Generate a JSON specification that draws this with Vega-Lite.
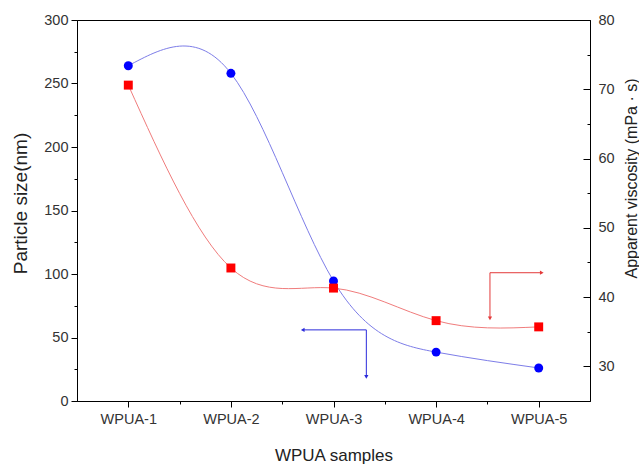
{
  "$schema": "https://vega.github.io/schema/vega-lite/v6.json",
  "width": 513,
  "height": 381,
  "autosize": {"type": "none"},
  "padding": {"left": 77, "top": 20, "right": 49, "bottom": 63},
  "config": {
    "font": "Liberation Sans",
    "view": {"stroke": "#000", "strokeWidth": 1},
    "axis": {
      "domainColor": "#000",
      "tickColor": "#000",
      "labelColor": "#333",
      "titleColor": "#222",
      "titleFontWeight": "normal",
      "labelFontSize": 14.5,
      "titleFontSize": 18,
      "grid": false
    }
  },
  "datasets": {
    "size": [
      {"x": 1, "y": 264},
      {"x": 2, "y": 258},
      {"x": 3, "y": 94.5},
      {"x": 4, "y": 38.5},
      {"x": 5, "y": 26}
    ],
    "viscosity": [
      {"x": 1, "y": 70.6},
      {"x": 2, "y": 44.2},
      {"x": 3, "y": 41.3},
      {"x": 4, "y": 36.6},
      {"x": 5, "y": 35.7}
    ],
    "arrowPaths": [
      {"arrow": "blue", "order": 1, "x": 2.7, "y": 56},
      {"arrow": "blue", "order": 2, "x": 3.32, "y": 56},
      {"arrow": "blue", "order": 3, "x": 3.32, "y": 19},
      {"arrow": "red", "order": 1, "x": 4.525, "y": 65},
      {"arrow": "red", "order": 2, "x": 4.525, "y": 101},
      {"arrow": "red", "order": 3, "x": 5.03, "y": 101}
    ],
    "arrowHeads": [
      {"arrow": "blue", "dir": "left", "x": 2.7, "y": 56},
      {"arrow": "blue", "dir": "down", "x": 3.32, "y": 19},
      {"arrow": "red", "dir": "down", "x": 4.525, "y": 65},
      {"arrow": "red", "dir": "right", "x": 5.03, "y": 101}
    ]
  },
  "encoding": {
    "x": {
      "field": "x",
      "type": "quantitative",
      "scale": {"domain": [0.5, 5.5], "nice": false, "zero": false},
      "axis": {
        "values": [1, 1.5, 2, 2.5, 3, 3.5, 4, 4.5, 5],
        "labelExpr": "datum.value % 1 === 0 ? 'WPUA-' + datum.value : ''",
        "tickSize": {"condition": {"test": "datum.value % 1 === 0", "value": 6}, "value": 3},
        "labelPadding": 5,
        "labelFlush": false,
        "labelOverlap": false,
        "title": "WPUA samples",
        "titleFontSize": 17,
        "titlePadding": 22
      }
    }
  },
  "layer": [
    {
      "encoding": {
        "y": {
          "field": "y",
          "type": "quantitative",
          "scale": {"domain": [0, 300], "nice": false},
          "axis": {
            "values": [0, 25, 50, 75, 100, 125, 150, 175, 200, 225, 250, 275, 300],
            "labelExpr": "datum.value % 50 === 0 ? datum.label : ''",
            "tickSize": {"condition": {"test": "datum.value % 50 === 0", "value": 6}, "value": 3},
            "labelPadding": 3,
            "labelOverlap": false,
            "title": "Particle size(nm)",
            "titleFontSize": 19,
            "titleX": -57,
            "titleY": 183,
            "titleAlign": "center",
            "titleBaseline": "middle"
          }
        }
      },
      "layer": [
        {
          "data": {"name": "size"},
          "mark": {"type": "line", "interpolate": "natural", "color": "#7d7de8", "strokeWidth": 1}
        },
        {
          "data": {"name": "size"},
          "mark": {"type": "point", "shape": "circle", "filled": true, "opacity": 1, "color": "#0000ff", "size": 80}
        },
        {
          "data": {"name": "arrowPaths"},
          "mark": {"type": "line", "strokeWidth": 1},
          "encoding": {
            "color": {"field": "arrow", "type": "nominal", "scale": {"domain": ["blue", "red"], "range": ["#2b2bdb", "#e33a3a"]}, "legend": null},
            "order": {"field": "order", "type": "quantitative"}
          }
        },
        {
          "data": {"name": "arrowHeads"},
          "mark": {"type": "point", "filled": true, "opacity": 1, "size": 18},
          "encoding": {
            "color": {"field": "arrow", "type": "nominal", "scale": {"domain": ["blue", "red"], "range": ["#2b2bdb", "#e33a3a"]}, "legend": null},
            "shape": {"field": "dir", "type": "nominal", "scale": {"domain": ["left", "down", "right"], "range": ["triangle-left", "triangle-down", "triangle-right"]}, "legend": null}
          }
        }
      ]
    },
    {
      "encoding": {
        "y": {
          "field": "y",
          "type": "quantitative",
          "scale": {"domain": [25, 80], "nice": false, "zero": false},
          "axis": {
            "orient": "right",
            "values": [30, 35, 40, 45, 50, 55, 60, 65, 70, 75, 80],
            "labelExpr": "datum.value % 10 === 0 ? datum.label : ''",
            "tickSize": {"condition": {"test": "datum.value % 10 === 0", "value": -7}, "value": -3},
            "labelPadding": 15,
            "labelOverlap": false,
            "title": "Apparent viscosity (mPa · s)",
            "titleFontSize": 16,
            "titleAngle": 270,
            "titleX": 41,
            "titleY": 158,
            "titleAlign": "center",
            "titleBaseline": "middle"
          }
        }
      },
      "layer": [
        {
          "data": {"name": "viscosity"},
          "mark": {"type": "line", "interpolate": "natural", "color": "#f07c7c", "strokeWidth": 1}
        },
        {
          "data": {"name": "viscosity"},
          "mark": {"type": "point", "shape": "square", "filled": true, "opacity": 1, "color": "#ff0000", "size": 80}
        }
      ]
    }
  ],
  "resolve": {"scale": {"y": "independent"}}
}
